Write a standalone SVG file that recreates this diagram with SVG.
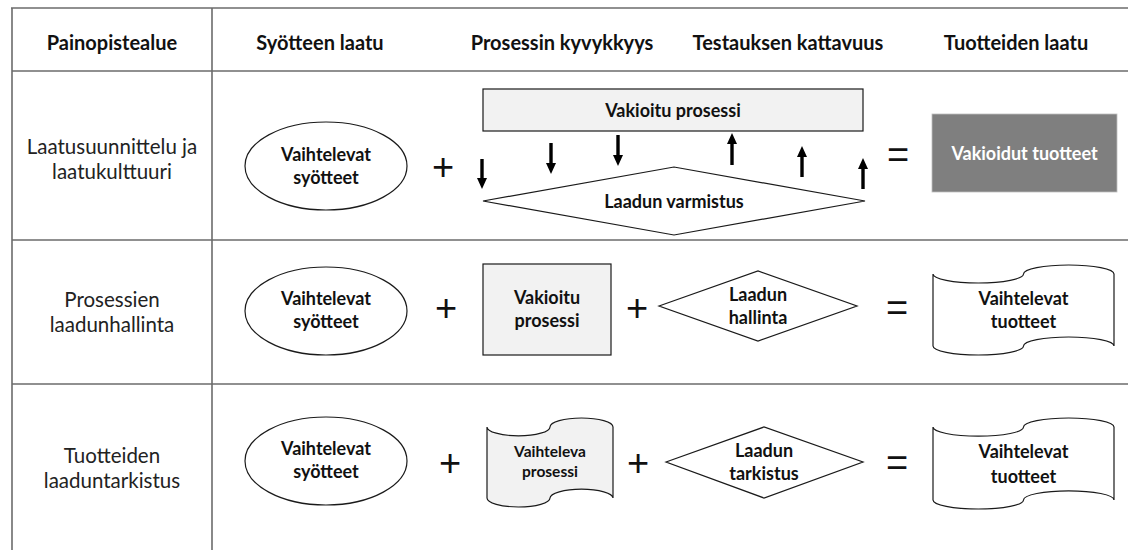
<svg xmlns="http://www.w3.org/2000/svg" width="1128" height="550" viewBox="0 0 1128 550">
  <defs>
    <marker id="head" viewBox="0 0 11 10" refX="0" refY="5" markerWidth="11" markerHeight="10" markerUnits="userSpaceOnUse" orient="auto">
      <path d="M0,0 L11,5 L0,10 Z" fill="#000"/>
    </marker>
  </defs>
  <style>
    .grid{stroke:#6b6b6b;stroke-width:1.6;fill:none}
    .hd{font-family:Lato,"Liberation Sans",sans-serif;font-weight:700;font-size:20px;fill:#111;text-anchor:middle}
    .lbl{font-family:Lato,"Liberation Sans",sans-serif;font-weight:400;font-size:20.5px;fill:#222;text-anchor:middle}
    .nt{font-family:Lato,"Liberation Sans",sans-serif;font-weight:700;font-size:18px;fill:#111;text-anchor:middle}
    .sm{font-size:15.5px}
    .wt{fill:#fff}
    .op{font-family:"Liberation Sans",sans-serif;font-size:38px;fill:#111;text-anchor:middle}
    .shape{stroke:#1a1a1a;stroke-width:1.2;fill:#fff}
    .grey{fill:#f2f2f2}
    .dark{fill:#7f7f7f;stroke:#bfbfbf;stroke-width:0.8}
    .arrow{stroke:#000;stroke-width:3.4;fill:none;marker-end:url(#head)}
  </style>

  <rect width="1128" height="550" fill="#fff"/>

  <!-- table rules -->
  <g id="table" class="grid">
    <path d="M11,8 H1128"/>
    <path d="M12,71 H1128"/>
    <path d="M12,240 H1128"/>
    <path d="M12,384 H1128"/>
    <path d="M12,8 V550"/>
    <path d="M212,8 V550"/>
  </g>

  <!-- column headings -->
  <g id="headings" class="hd">
    <text x="112" y="50">Painopistealue</text>
    <text x="320" y="50">Syötteen laatu</text>
    <text x="562" y="50">Prosessin kyvykkyys</text>
    <text x="788" y="50">Testauksen kattavuus</text>
    <text x="1016" y="50">Tuotteiden laatu</text>
  </g>

  <!-- row labels -->
  <g id="label-row1" class="lbl">
    <text x="112" y="154">Laatusuunnittelu ja</text>
    <text x="112" y="179">laatukulttuuri</text>
  </g>
  <g id="label-row2" class="lbl">
    <text x="112" y="307">Prosessien</text>
    <text x="112" y="332">laadunhallinta</text>
  </g>
  <g id="label-row3" class="lbl">
    <text x="112" y="463">Tuotteiden</text>
    <text x="112" y="488">laaduntarkistus</text>
  </g>

  <!-- row 1: quality planning -->
  <g id="input-row1">
    <ellipse class="shape" cx="326" cy="166" rx="81" ry="44"/>
    <text class="nt" x="326" y="161">Vaihtelevat</text>
    <text class="nt" x="326" y="184">syötteet</text>
  </g>
  <text class="op" x="443" y="180">+</text>
  <g id="process-row1">
    <rect class="shape grey" x="483" y="89" width="380" height="42"/>
    <text class="nt" x="673" y="117">Vakioitu prosessi</text>
  </g>
  <g id="assurance-row1">
    <polygon class="shape" points="483,201 674,167 865,201 674,235"/>
    <text class="nt" x="674" y="208">Laadun varmistus</text>
  </g>
  <text class="op" x="898" y="168">=</text>
  <g id="output-row1">
    <rect class="dark" x="932" y="114" width="185" height="78"/>
    <text class="nt wt" x="1024.5" y="160">Vakioidut tuotteet</text>
  </g>

  <!-- row 2: process quality management -->
  <g id="input-row2">
    <ellipse class="shape" cx="326" cy="311" rx="81" ry="44"/>
    <text class="nt" x="326" y="305">Vaihtelevat</text>
    <text class="nt" x="326" y="328">syötteet</text>
  </g>
  <text class="op" x="446" y="321">+</text>
  <g id="process-row2">
    <rect class="shape grey" x="483" y="264" width="128" height="91"/>
    <text class="nt" x="547" y="304">Vakioitu</text>
    <text class="nt" x="547" y="327">prosessi</text>
  </g>
  <text class="op" x="637" y="321">+</text>
  <g id="control-row2">
    <polygon class="shape" points="659,306 758,271 857,306 758,341"/>
    <text class="nt" x="758" y="301">Laadun</text>
    <text class="nt" x="758" y="324">hallinta</text>
  </g>
  <text class="op" x="897" y="321">=</text>
  <g id="output-row2">
    <path class="shape" d="M933,274 A45.25,9 0 0 0 1023.5,274 A45.25,9 0 0 1 1114,274 L1114,346 A45.25,9 0 0 0 1023.5,346 A45.25,9 0 0 1 933,346 Z"/>
    <text class="nt" x="1023.5" y="305">Vaihtelevat</text>
    <text class="nt" x="1023.5" y="328">tuotteet</text>
  </g>

  <!-- row 3: product inspection -->
  <g id="input-row3">
    <ellipse class="shape" cx="326" cy="461" rx="81" ry="44"/>
    <text class="nt" x="326" y="455">Vaihtelevat</text>
    <text class="nt" x="326" y="478">syötteet</text>
  </g>
  <text class="op" x="450" y="476">+</text>
  <g id="process-row3">
    <path class="shape grey" d="M487,426.9 A31.5,8.9 0 0 0 550,426.9 A31.5,8.9 0 0 1 613,426.9 L613,498.1 A31.5,8.9 0 0 0 550,498.1 A31.5,8.9 0 0 1 487,498.1 Z"/>
    <text class="nt sm" x="550" y="457">Vaihteleva</text>
    <text class="nt sm" x="550" y="477">prosessi</text>
  </g>
  <text class="op" x="638" y="476">+</text>
  <g id="inspection-row3">
    <polygon class="shape" points="666,462 764,427 863,462 764,498"/>
    <text class="nt" x="764" y="457">Laadun</text>
    <text class="nt" x="764" y="480">tarkistus</text>
  </g>
  <text class="op" x="897" y="476">=</text>
  <g id="output-row3">
    <path class="shape" d="M933,427.1 A45.25,9.1 0 0 0 1023.5,427.1 A45.25,9.1 0 0 1 1114,427.1 L1114,499.9 A45.25,9.1 0 0 0 1023.5,499.9 A45.25,9.1 0 0 1 933,499.9 Z"/>
    <text class="nt" x="1023.5" y="458">Vaihtelevat</text>
    <text class="nt" x="1023.5" y="483">tuotteet</text>
  </g>

  <!-- feedback arrows between process and assurance -->
  <g id="connectors" class="arrow">
    <path d="M482,159 V178"/>
    <path d="M551,143 V163"/>
    <path d="M618,135 V155"/>
    <path d="M732,165 V144"/>
    <path d="M802,177 V157"/>
    <path d="M863,189 V169"/>
  </g>
</svg>
